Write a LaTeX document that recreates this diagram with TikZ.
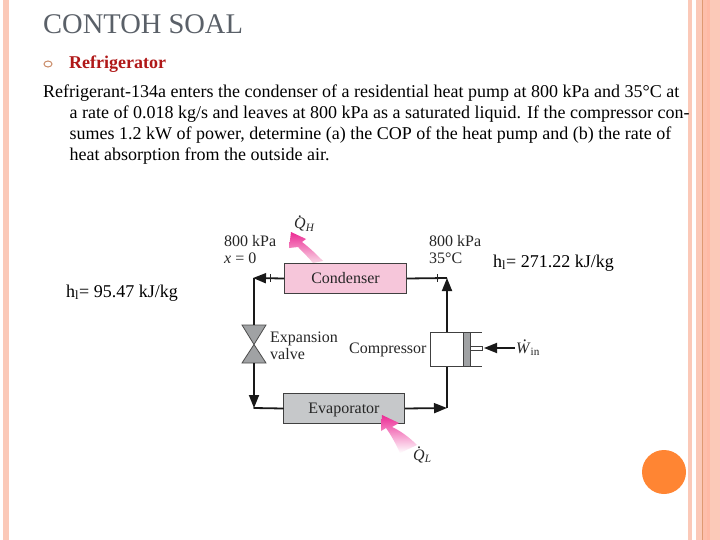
\documentclass[tikz,border=0pt]{standalone}
\usepackage{fontspec}
\setmainfont{Liberation Serif}
\usetikzlibrary{arrows.meta}
\definecolor{stripeA}{HTML}{FBC9B8}
\definecolor{stripeB}{HTML}{FFB9A5}
\definecolor{stripeC}{HTML}{E09A72}
\definecolor{titlegray}{HTML}{5A6068}
\definecolor{redtext}{HTML}{B01818}
\definecolor{orangedot}{HTML}{FF8533}
\definecolor{condpink}{HTML}{F6C6DA}
\definecolor{evapgray}{HTML}{C6C8CA}
\definecolor{valvegray}{HTML}{A0A2A4}
\definecolor{hotpink}{HTML}{EC2A94}
\newcommand{\dotover}[1]{\textit{#1}\llap{\raisebox{.72em}{\makebox[.72em]{.}}}}
\tikzset{
  stripe/.style={fill=#1,draw=none},
  body/.style={anchor=base west,inner sep=0pt,font=\fontsize{18}{20}\selectfont},
  dia/.style={inner sep=0pt,font=\fontsize{16}{18}\selectfont,text=black!85},
  box/.style={draw=black!75,line width=1pt,anchor=north west,inner sep=0pt,text height=12pt,text depth=2pt,font=\fontsize{16}{18}\selectfont,text=black!85},
  flow/.style={draw=black!90,line width=1.8pt},
  tip/.style={-{Triangle[length=13pt,width=10pt]}},
}
\begin{document}
\begin{tikzpicture}[x=1pt,y=-1pt]
\useasboundingbox (0,0) rectangle (720,540);
\fill[white] (0,0) rectangle (720,540);
% side stripes
\fill[stripe=stripeA] (3,0) rectangle (9,540);
\fill[stripe=stripeA] (688,0) rectangle (692,540);
\fill[stripe=stripeA] (696,0) rectangle (720,540);
\fill[stripe=stripeB!70!stripeA] (703,0) rectangle (707,540);
\fill[stripe=stripeB] (707,0) rectangle (710,540);
\fill[stripe=stripeC] (702,0) rectangle (703,540);
\fill[orangedot] (664,472) circle (22);
% text
\node[anchor=base west,inner sep=0pt,font=\fontsize{28.5}{30}\selectfont,text=titlegray] (title) at (43,34) {CONTOH SOAL};
\draw[draw=stripeC!90!black,line width=1pt] (48,64) ellipse (4 and 3);
\node[body,text=redtext,font=\fontsize{18}{20}\selectfont\bfseries] (sub) at (69,69) {Refrigerator};
\node[body] (l1) at (43,98) {Refrigerant-134a enters the condenser of a residential heat pump at 800 kPa and 35°C at};
\node[body] (l2) at (69.5,119) {a rate of 0.018 kg/s and leaves at 800 kPa as a saturated liquid. If the compressor con-};
\node[body] (l3) at (69.5,140) {sumes 1.2 kW of power, determine (a) the COP of the heat pump and (b) the rate of};
\node[body] (l4) at (69.5,161) {heat absorption from the outside air.};
\node[body] (h2) at (493,267) {h\textsubscript{l}= 271.22 kJ/kg};
\node[body] (h1) at (66,297) {h\textsubscript{l}= 95.47 kJ/kg};
% heat arrows
\shade[bottom color=condpink!70,middle color=hotpink!70!white,top color=hotpink]
  (291,232) -- (306,239) -- (302,242) .. controls (310,248) and (317,255) .. (323,261)
  -- (313,263) .. controls (308,257) and (303,252) .. (298,247) -- (289,248) -- cycle;
% boxes
\node[box,fill=condpink,minimum width=122pt,minimum height=30pt] (cond) at (284,263) {Condenser};
\node[box,fill=evapgray,minimum width=121pt,minimum height=30pt] (evap) at (283,393) {Evaporator};
\shade[bottom color=white,middle color=hotpink!70!white,top color=hotpink]
  (382,415) -- (399,423) -- (392,427) .. controls (401,431) and (410,438) .. (417,445)
  -- (400,453) .. controls (396,444) and (391,435) .. (386,428) -- (381,431) -- cycle;
% valve
\path[fill=valvegray,draw=black!70,line width=.8pt] (242,325) -- (266,325) -- (254,344.5) -- cycle;
\path[fill=valvegray,draw=black!70,line width=.8pt] (242,363) -- (266,363) -- (254,344.5) -- cycle;
\coordinate (vt) at (254,325);
\coordinate (vb) at (254,363);
\coordinate (cl) at (253,278);
\coordinate (cl2) at (254,278);
\coordinate (bl) at (254,408);
\coordinate (br) at (447,408);
\coordinate (cr) at (447,278);
% compressor
\node[box,fill=white,minimum width=33pt,minimum height=34pt] (comp) at (430,332) {};
\fill[valvegray] (463,332) rectangle (470,366);
\draw[black!75,line width=1pt] (463,332) -- (463,366) (470,332) -- (470,366);
\draw[black!75,line width=1pt] (463,332) -- (482,332) (463,366) -- (482,366);
\draw[black!75,line width=.8pt,fill=white] (470,346) rectangle (482,350);
\coordinate (rod) at (484,348);
\coordinate (win) at (515,348);
% flows
\draw[flow] (cl2) -- (vt);
\draw[flow,tip] (cond.west) -- (cl);
\draw[flow,tip] (vb) -- (bl);
\draw[flow,line cap=round] (bl) -- (evap.west);
\draw[flow,tip] (evap.east) -- (br);
\draw[flow] (br) -- (comp.south);
\draw[flow,tip] (comp.north) -- (cr);
\draw[flow] (cr) -- (cond.east);
\draw[flow,tip] (win) -- (rod);
\draw[black!85,line width=.8pt] (270,274) -- (270,282) (437,274) -- (437,282);
% labels
\node[dia,anchor=base west] (ql1) at (224,246) {800 kPa};
\node[dia,anchor=base west] (ql2) at (224,263) {\textit{x} = 0};
\node[dia,anchor=base west] (qr1) at (429,246) {800 kPa};
\node[dia,anchor=base west] (qr2) at (429,263) {35°C};
\node[dia,anchor=base west] (qh) at (294,229) {\dotover{Q}\textsubscript{\textit{H}}};
\node[dia,anchor=base west] (ql) at (413,460) {\dotover{Q}\textsubscript{\textit{L}}};
\node[dia,anchor=base west] (ev1) at (270,342) {Expansion};
\node[dia,anchor=base west] (ev2) at (270,359) {valve};
\node[dia,anchor=base west] (cp) at (349,353) {Compressor};
\node[dia,anchor=base west] (w) at (516,353) {\dotover{W}\textsubscript{in}};
\end{tikzpicture}
\end{document}
